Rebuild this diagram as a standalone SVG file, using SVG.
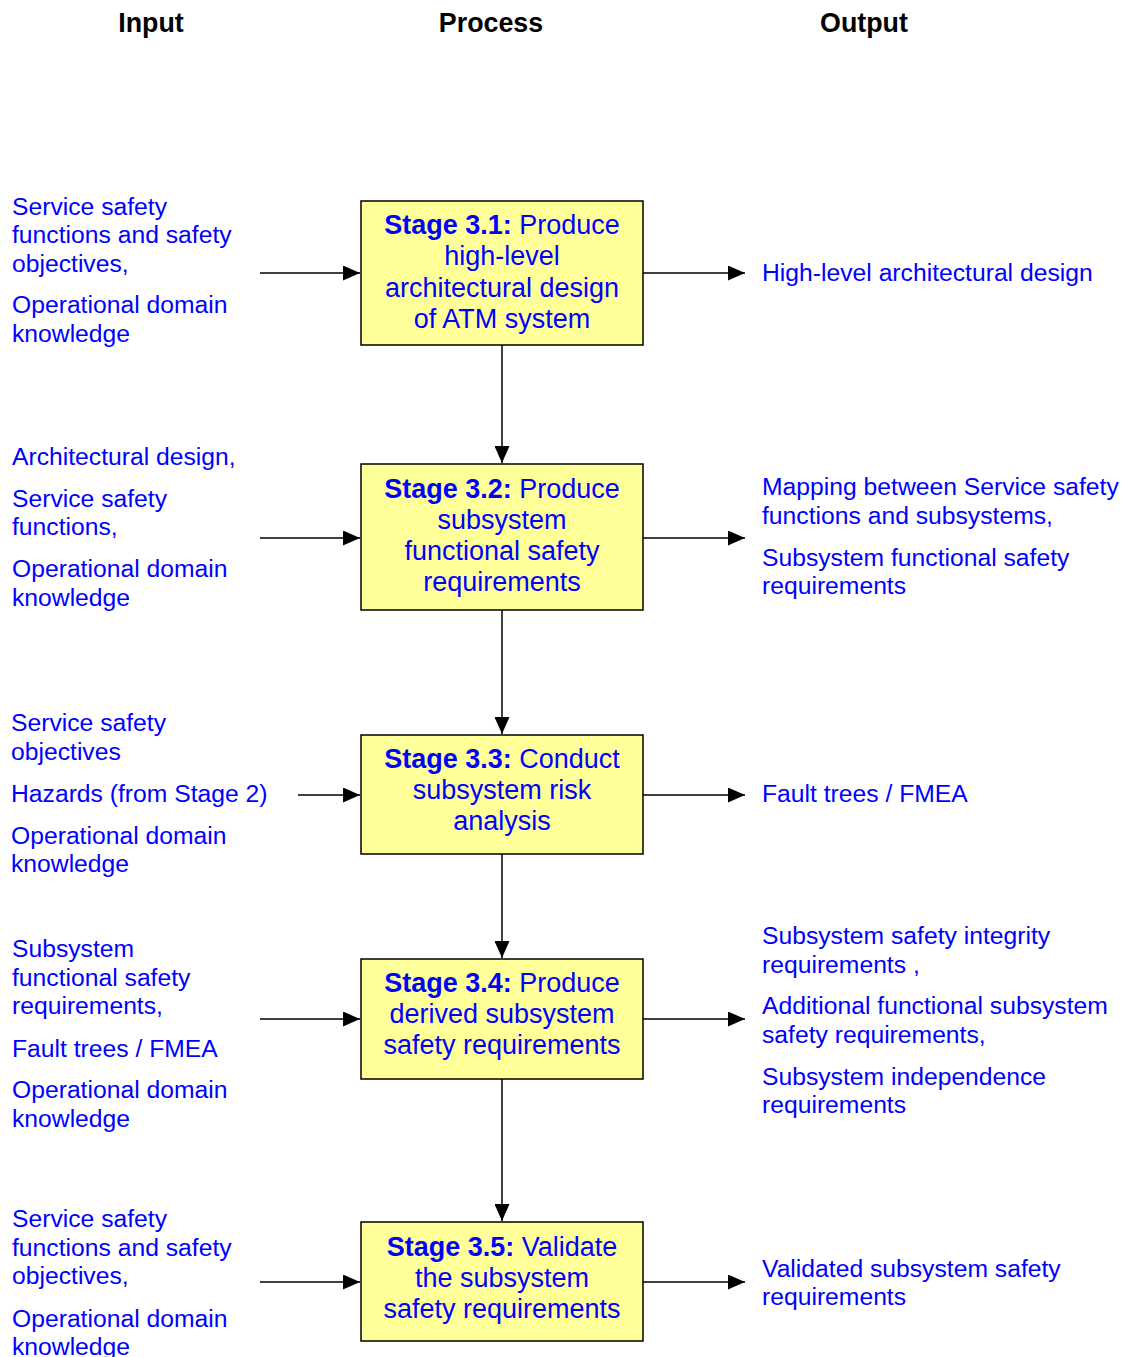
<svg xmlns="http://www.w3.org/2000/svg" width="1125" height="1357" viewBox="0 0 1125 1357">
  <style>
    text { font-family: "Liberation Sans", Arial, sans-serif; font-size: 24.7px; fill: #0000ff; }
    .head { fill: #000000; font-weight: bold; text-anchor: middle; font-size: 26.8px; }
    .box rect { fill: #ffff99; stroke: #000000; stroke-width: 1.5; }
    .box text { text-anchor: middle; font-size: 27px; }
    .b { font-weight: bold; }
    .conn line { stroke: #000000; stroke-width: 1.5; fill: none; }
  </style>
  <defs>
    <marker id="arrow" viewBox="0 0 10 10" refX="10" refY="5" markerWidth="17" markerHeight="15" markerUnits="userSpaceOnUse" orient="auto" preserveAspectRatio="none">
      <path d="M0,0 L10,5 L0,10 Z" fill="#000000"/>
    </marker>
  </defs>
  <rect width="1125" height="1357" fill="#ffffff"/>

  <!-- column headings -->
  <g id="headings">
    <text class="head" x="151" y="32">Input</text>
    <text class="head" x="491" y="32">Process</text>
    <text class="head" x="864" y="32">Output</text>
  </g>

  <!-- connectors -->
  <g id="connectors" class="conn">
    <line x1="260" y1="273" x2="360" y2="273" marker-end="url(#arrow)"/>
    <line x1="643" y1="273" x2="745" y2="273" marker-end="url(#arrow)"/>
    <line x1="502" y1="345" x2="502" y2="463" marker-end="url(#arrow)"/>
    <line x1="260" y1="538" x2="360" y2="538" marker-end="url(#arrow)"/>
    <line x1="643" y1="538" x2="745" y2="538" marker-end="url(#arrow)"/>
    <line x1="502" y1="610" x2="502" y2="734" marker-end="url(#arrow)"/>
    <line x1="298" y1="795" x2="360" y2="795" marker-end="url(#arrow)"/>
    <line x1="643" y1="795" x2="745" y2="795" marker-end="url(#arrow)"/>
    <line x1="502" y1="854" x2="502" y2="958" marker-end="url(#arrow)"/>
    <line x1="260" y1="1019" x2="360" y2="1019" marker-end="url(#arrow)"/>
    <line x1="643" y1="1019" x2="745" y2="1019" marker-end="url(#arrow)"/>
    <line x1="502" y1="1079" x2="502" y2="1221" marker-end="url(#arrow)"/>
    <line x1="260" y1="1282" x2="360" y2="1282" marker-end="url(#arrow)"/>
    <line x1="643" y1="1282" x2="745" y2="1282" marker-end="url(#arrow)"/>
  </g>

  <!-- process stages -->
  <g id="stage-3-1" class="box">
    <rect x="361" y="201" width="282" height="144"/>
    <text x="502" y="234"><tspan class="b">Stage 3.1:</tspan> Produce</text>
    <text x="502" y="265">high-level</text>
    <text x="502" y="297">architectural design</text>
    <text x="502" y="328">of ATM system</text>
  </g>
  <g id="stage-3-2" class="box">
    <rect x="361" y="464" width="282" height="146"/>
    <text x="502" y="498"><tspan class="b">Stage 3.2:</tspan> Produce</text>
    <text x="502" y="529">subsystem</text>
    <text x="502" y="560">functional safety</text>
    <text x="502" y="591">requirements</text>
  </g>
  <g id="stage-3-3" class="box">
    <rect x="361" y="735" width="282" height="119"/>
    <text x="502" y="768"><tspan class="b">Stage 3.3:</tspan> Conduct</text>
    <text x="502" y="799">subsystem risk</text>
    <text x="502" y="830">analysis</text>
  </g>
  <g id="stage-3-4" class="box">
    <rect x="361" y="959" width="282" height="120"/>
    <text x="502" y="992"><tspan class="b">Stage 3.4:</tspan> Produce</text>
    <text x="502" y="1023">derived subsystem</text>
    <text x="502" y="1054">safety requirements</text>
  </g>
  <g id="stage-3-5" class="box">
    <rect x="361" y="1222" width="282" height="119"/>
    <text x="502" y="1256"><tspan class="b">Stage 3.5:</tspan> Validate</text>
    <text x="502" y="1287">the subsystem</text>
    <text x="502" y="1318">safety requirements</text>
  </g>

  <!-- inputs -->
  <g id="input-3-1">
    <text x="12" y="215">Service safety</text>
    <text x="12" y="243">functions and safety</text>
    <text x="12" y="272">objectives,</text>
    <text x="12" y="313">Operational domain</text>
    <text x="12" y="342">knowledge</text>
  </g>
  <g id="input-3-2">
    <text x="12" y="465">Architectural design,</text>
    <text x="12" y="507">Service safety</text>
    <text x="12" y="535">functions,</text>
    <text x="12" y="577">Operational domain</text>
    <text x="12" y="606">knowledge</text>
  </g>
  <g id="input-3-3">
    <text x="11" y="731">Service safety</text>
    <text x="11" y="760">objectives</text>
    <text x="11" y="802">Hazards (from Stage 2)</text>
    <text x="11" y="844">Operational domain</text>
    <text x="11" y="872">knowledge</text>
  </g>
  <g id="input-3-4">
    <text x="12" y="957">Subsystem</text>
    <text x="12" y="986">functional safety</text>
    <text x="12" y="1014">requirements,</text>
    <text x="12" y="1057">Fault trees / FMEA</text>
    <text x="12" y="1098">Operational domain</text>
    <text x="12" y="1127">knowledge</text>
  </g>
  <g id="input-3-5">
    <text x="12" y="1227">Service safety</text>
    <text x="12" y="1256">functions and safety</text>
    <text x="12" y="1284">objectives,</text>
    <text x="12" y="1327">Operational domain</text>
    <text x="12" y="1355">knowledge</text>
  </g>

  <!-- outputs -->
  <g id="output-3-1">
    <text x="762" y="281">High-level architectural design</text>
  </g>
  <g id="output-3-2">
    <text x="762" y="495">Mapping between Service safety</text>
    <text x="762" y="524">functions and subsystems,</text>
    <text x="762" y="566">Subsystem functional safety</text>
    <text x="762" y="594">requirements</text>
  </g>
  <g id="output-3-3">
    <text x="762" y="802">Fault trees / FMEA</text>
  </g>
  <g id="output-3-4">
    <text x="762" y="944">Subsystem safety integrity</text>
    <text x="762" y="973">requirements ,</text>
    <text x="762" y="1014">Additional functional subsystem</text>
    <text x="762" y="1043">safety requirements,</text>
    <text x="762" y="1085">Subsystem independence</text>
    <text x="762" y="1113">requirements</text>
  </g>
  <g id="output-3-5">
    <text x="762" y="1277">Validated subsystem safety</text>
    <text x="762" y="1305">requirements</text>
  </g>
</svg>
